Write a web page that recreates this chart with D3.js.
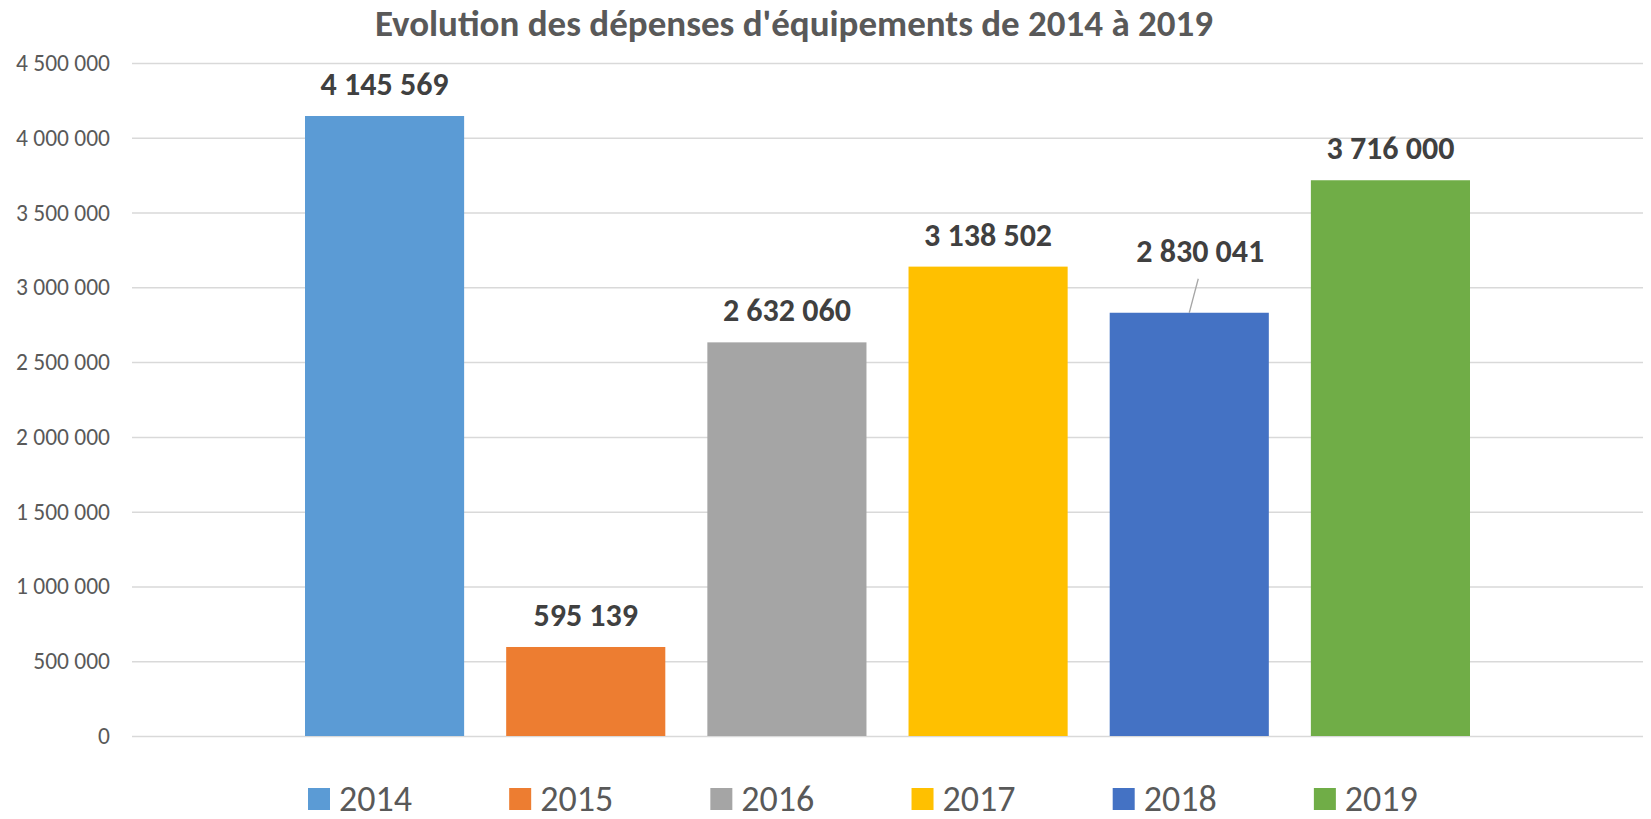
<!DOCTYPE html>
<html>
<head>
    <meta charset="utf-8">
    <title>Evolution des dépenses d'équipements</title>
    <style>
        body { margin: 0; background: #fff; }
        svg { font-family: Carlito, Calibri, Lato, sans-serif; }
        .grid line { stroke: #d9d9d9; stroke-width: 1.5; }
        .grid .domain { display: none; }
        .yaxis text { fill: #595959; font-size: 23.5px; font-family: Carlito, Calibri, Lato, sans-serif; }
        .yaxis .domain, .yaxis line { display: none; }
    </style>
</head>
<body>
    <svg id="chart" width="1651" height="819"></svg>

    <script src="https://d3js.org/d3.v7.min.js"></script>
    <script>
        // ---- data ----
        const years = ['2014', '2015', '2016', '2017', '2018', '2019']
        const depenses = [4145569, 595139, 2632060, 3138502, 2830041, 3716000]
        const yTicks = [0, 500000, 1000000, 1500000, 2000000, 2500000, 3000000, 3500000, 4000000, 4500000]
        const colors = ['#5B9BD5', '#ED7D31', '#A5A5A5', '#FFC000', '#4472C4', '#70AD47']
        const title = "Evolution des dépenses d'équipements de 2014 à 2019"

        const data = years.map((y, i) => ({ year: y, value: depenses[i], color: colors[i] }))

        // label moved by hand in the original (with a leader line)
        const movedLabels = { '2018': { dx: 11, dy: -30 } }

        // ---- layout ----
        const plot = { left: 132, right: 1643, top: 63, bottom: 736 }
        const svg = d3.select('#chart')

        // french style thousands: "4 500 000"
        const fr = d3.formatLocale({ decimal: ',', thousands: ' ', grouping: [3], currency: ['', ' €'] })
        const fmt = fr.format(',d')

        const y = d3.scaleLinear()
            .domain([0, 4500000])
            .range([plot.bottom, plot.top])

        const x = d3.scaleBand()
            .domain(years)
            .range([305, 1470])
            .paddingInner(0.209)
            .paddingOuter(0)

        // gridlines
        svg.append('g')
            .attr('class', 'grid')
            .attr('transform', `translate(${plot.left},0)`)
            .call(d3.axisLeft(y).tickValues(yTicks).tickSize(-(plot.right - plot.left)).tickFormat(''))

        // y labels
        svg.append('g')
            .attr('class', 'yaxis')
            .attr('transform', `translate(${plot.left - 22},0)`)
            .call(d3.axisLeft(y).tickValues(yTicks).tickSize(0).tickPadding(0).tickFormat(fmt))

        // bars
        svg.selectAll('rect.bar')
            .data(data)
            .join('rect')
            .attr('class', 'bar')
            .attr('x', d => x(d.year))
            .attr('y', d => y(d.value))
            .attr('width', x.bandwidth())
            .attr('height', d => y(0) - y(d.value))
            .attr('fill', d => d.color)

        // value labels
        const labelX = d => x(d.year) + x.bandwidth() / 2 + (movedLabels[d.year] ? movedLabels[d.year].dx : 0)
        const labelY = d => y(d.value) - 21 + (movedLabels[d.year] ? movedLabels[d.year].dy : 0)

        svg.selectAll('line.leader')
            .data(data.filter(d => movedLabels[d.year]))
            .join('line')
            .attr('class', 'leader')
            .attr('x1', d => labelX(d) - 2)
            .attr('y1', d => labelY(d) + 17)
            .attr('x2', d => x(d.year) + x.bandwidth() / 2)
            .attr('y2', d => y(d.value))
            .attr('stroke', '#a6a6a6')
            .attr('stroke-width', 1.3)

        svg.selectAll('text.val')
            .data(data)
            .join('text')
            .attr('class', 'val')
            .attr('x', labelX)
            .attr('y', labelY)
            .attr('text-anchor', 'middle')
            .attr('font-size', 32)
            .attr('font-weight', 'bold')
            .attr('fill', '#404040')
            .text(d => fmt(d.value))

        // title
        svg.append('text')
            .attr('x', 794)
            .attr('y', 36)
            .attr('text-anchor', 'middle')
            .attr('font-size', 37)
            .attr('font-weight', 'bold')
            .attr('fill', '#595959')
            .text(title)

        // legend, swatches line up with the bars
        const legend = svg.selectAll('g.leg')
            .data(data)
            .join('g')
            .attr('class', 'leg')
            .attr('transform', d => `translate(${x(d.year) + 3},799)`)

        legend.append('rect')
            .attr('x', 0)
            .attr('y', -11)
            .attr('width', 22)
            .attr('height', 22)
            .attr('fill', d => d.color)

        legend.append('text')
            .attr('x', 31)
            .attr('y', 12)
            .attr('font-size', 36)
            .attr('fill', '#595959')
            .text(d => d.year)
    </script>
</body>
</html>
